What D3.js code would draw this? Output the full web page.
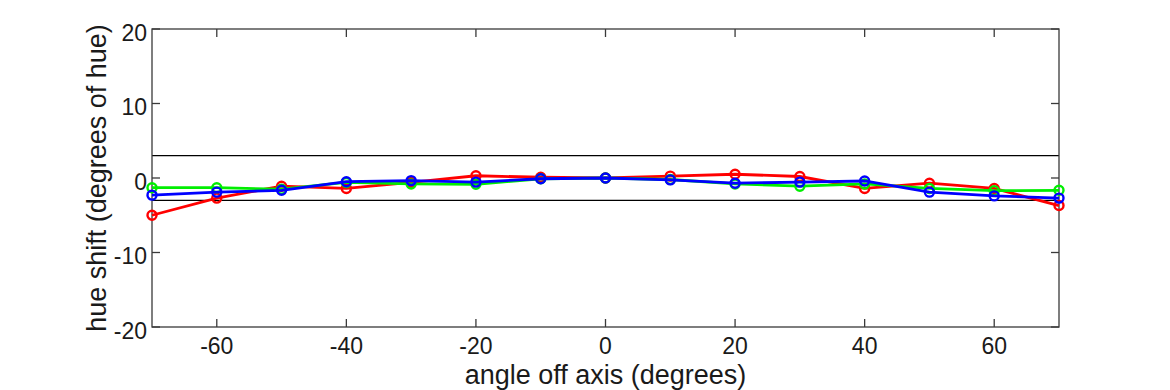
<!DOCTYPE html>
<meta charset="utf-8">
<style>
  body { margin: 0; background: #fff; }
  svg { font-family: "Liberation Sans", Arial, sans-serif; }
  .frame { fill: none; stroke: #3a3a3a; stroke-width: 1.3; }
  .tick-lab { font-size: 23px; fill: #1a1a1a; }
  .axis-lab { font-size: 27px; fill: #1a1a1a; }
  .ref { stroke: #000; stroke-width: 1.3; }
</style>
<body></body>
<script src="https://d3js.org/d3.v7.min.js"></script>
<script>
// angles measured (degrees)
var angles = [-70, -60, -50, -40, -30, -20, -10, 0, 10, 20, 30, 40, 50, 60, 70];
// hue shift per channel
var redShift   = [-5.0, -2.7, -1.1, -1.4, -0.6, 0.3, 0.1, 0, 0.25, 0.5, 0.2, -1.4, -0.7, -1.4, -3.7];
var greenShift = [-1.3, -1.3, -1.5, -0.6, -0.8, -0.85, -0.1, 0, -0.2, -0.8, -1.1, -0.8, -1.4, -1.7, -1.65];
var blueShift  = [-2.3, -1.9, -1.65, -0.5, -0.35, -0.55, -0.1, 0, -0.25, -0.7, -0.55, -0.4, -1.9, -2.4, -2.7];
var xTicks = [-60, -40, -20, 0, 20, 40, 60];
var yTicks = [-20, -10, 0, 10, 20];
var refLines = [3, -3];

var W = 1170, H = 390;
var margin = {top: 29, right: 111, bottom: 63, left: 152};
var w = W - margin.left - margin.right,
    h = H - margin.top - margin.bottom;

var svg = d3.select("body").append("svg")
    .attr("width", W)
    .attr("height", H);

var chart = svg.append("g")
    .attr("transform", "translate(" + margin.left + "," + margin.top + ")");

var x = d3.scaleLinear().domain([-70, 70]).range([0, w]);
var y = d3.scaleLinear().domain([-20, 20]).range([h, 0]);

// reference band lines
chart.selectAll("line.ref")
  .data(refLines)
  .enter().append("line")
    .attr("class", "ref")
    .attr("x1", 0).attr("x2", w)
    .attr("y1", function(d) { return y(d); })
    .attr("y2", function(d) { return y(d); });

// inward ticks on all sides (matlab style)
var tickLen = 8;
var tg = chart.append("g").attr("stroke", "#3a3a3a").attr("stroke-width", 1.3);
xTicks.forEach(function(t) {
  tg.append("line").attr("x1", x(t)).attr("x2", x(t)).attr("y1", h).attr("y2", h - tickLen);
  tg.append("line").attr("x1", x(t)).attr("x2", x(t)).attr("y1", 0).attr("y2", tickLen);
});
yTicks.forEach(function(t) {
  tg.append("line").attr("x1", 0).attr("x2", tickLen).attr("y1", y(t)).attr("y2", y(t));
  tg.append("line").attr("x1", w).attr("x2", w - tickLen).attr("y1", y(t)).attr("y2", y(t));
});

chart.append("rect")
    .attr("class", "frame")
    .attr("x", 0).attr("y", 0)
    .attr("width", w).attr("height", h);

// tick labels
chart.selectAll("text.xl")
  .data(xTicks)
  .enter().append("text")
    .attr("class", "tick-lab")
    .attr("text-anchor", "middle")
    .attr("x", function(d) { return x(d); })
    .attr("y", h + 27)
    .text(function(d) { return d; });

chart.selectAll("text.yl")
  .data(yTicks)
  .enter().append("text")
    .attr("class", "tick-lab")
    .attr("text-anchor", "end")
    .attr("x", -5)
    .attr("y", function(d) { return y(d) + 11.5; })
    .text(function(d) { return d; });

chart.append("text")
    .attr("class", "axis-lab")
    .attr("text-anchor", "middle")
    .attr("x", w / 2)
    .attr("y", h + 57)
    .text("angle off axis (degrees)");

chart.append("text")
    .attr("class", "axis-lab")
    .attr("text-anchor", "middle")
    .attr("transform", "translate(-46," + (h / 2) + ") rotate(-90)")
    .text("hue shift (degrees of hue)");

// series
var series = [
  {color: "#ff0000", values: redShift},
  {color: "#00ee00", values: greenShift},
  {color: "#0000ff", values: blueShift}
];

var line = d3.line()
    .x(function(d, i) { return x(angles[i]); })
    .y(function(d) { return y(d); });

series.forEach(function(s) {
  var g = chart.append("g");
  g.append("path")
    .attr("d", line(s.values))
    .attr("fill", "none")
    .attr("stroke", s.color)
    .attr("stroke-width", 2.8);
  g.selectAll("circle")
    .data(s.values)
    .enter().append("circle")
      .attr("cx", function(d, i) { return x(angles[i]); })
      .attr("cy", function(d) { return y(d); })
      .attr("r", 4.5)
      .attr("fill", "none")
      .attr("stroke", s.color)
      .attr("stroke-width", 2.4);
});
</script>
